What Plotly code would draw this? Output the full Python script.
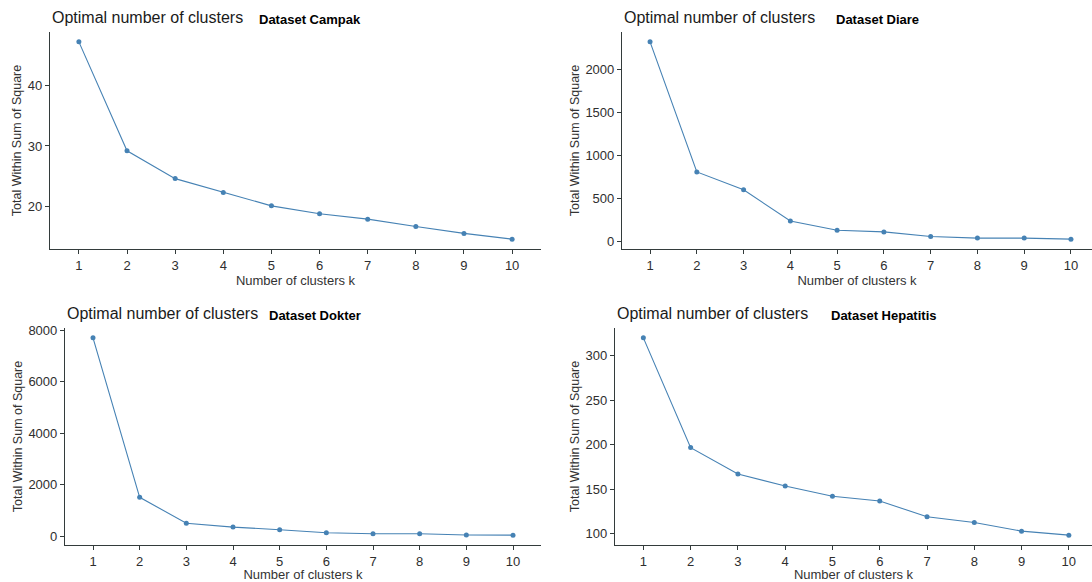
import plotly.graph_objects as go

# ---- data ----
k = [1, 2, 3, 4, 5, 6, 7, 8, 9, 10]
k_labels = ["1", "2", "3", "4", "5", "6", "7", "8", "9", "10"]

campak = [47.2, 29.2, 24.6, 22.3, 20.1, 18.8, 17.9, 16.7, 15.55, 14.6]
diare = [2322, 812, 604, 242, 134, 115, 61, 43, 43, 31]
dokter = [7700, 1516, 510, 360, 257, 141, 103, 103, 51, 48]
hepatitis = [320.1, 196.6, 166.8, 153.4, 141.8, 136.6, 118.7, 112.3, 102.6, 98.1]

campak_ticks = [20, 30, 40]
diare_ticks = [0, 500, 1000, 1500, 2000]
dokter_ticks = [0, 2000, 4000, 6000, 8000]
hepatitis_ticks = [100, 150, 200, 250, 300]

main_title = "Optimal number of clusters"
dataset_names = ["Dataset Campak", "Dataset Diare", "Dataset Dokter", "Dataset Hepatitis"]
x_title = "Number of clusters k"
y_title = "Total Within Sum of Square"

# ---- layout geometry (pixels) ----
W, H = 1092, 582
panels = [
    dict(data=campak, ticks=campak_ticks, x0=50, x1=541, y0=32, y1=249, xr=[0.4, 10.6],
         tx=50, ty=17, dx=257, dy=20),
    dict(data=diare, ticks=diare_ticks, x0=622, x1=1092, y0=32, y1=249, xr=[0.4, 10.45],
         tx=622, ty=17, dx=834, dy=20),
    dict(data=dokter, ticks=dokter_ticks, x0=65, x1=541, y0=328, y1=545, xr=[0.4, 10.6],
         tx=65, ty=313, dx=267, dy=315),
    dict(data=hepatitis, ticks=hepatitis_ticks, x0=615, x1=1092, y0=328, y1=545, xr=[0.4, 10.49],
         tx=615, ty=313, dx=829, dy=315),
]

FONT = "Liberation Sans, Arial, sans-serif"
AXIS_COL = "#333b3b"
LINE_COL = "#4682B4"

fig = go.Figure()
layout = dict(
    width=W, height=H,
    margin=dict(l=0, r=0, t=0, b=0, autoexpand=False),
    paper_bgcolor="white", plot_bgcolor="white",
    showlegend=False,
    font=dict(family=FONT, color="#333333"),
    annotations=[],
)

for i, p in enumerate(panels):
    n = i + 1
    xa = "x" if n == 1 else f"x{n}"
    ya = "y" if n == 1 else f"y{n}"
    fig.add_trace(go.Scatter(
        x=k, y=p["data"], xaxis=xa, yaxis=ya, mode="lines+markers",
        line=dict(color=LINE_COL, width=1.1),
        marker=dict(color=LINE_COL, size=5),
        hoverinfo="x+y",
    ))
    lo, hi = min(p["data"]), max(p["data"])
    pad = 0.05 * (hi - lo)
    axis_common = dict(
        showgrid=False, zeroline=False, showline=True, linecolor=AXIS_COL, linewidth=1.2,
        ticks="outside", ticklen=4, tickwidth=1, tickcolor=AXIS_COL,
        tickfont=dict(family=FONT, size=13, color="#2e2e2e"),
        automargin=False,
    )
    layout["xaxis" if n == 1 else f"xaxis{n}"] = dict(
        axis_common,
        domain=[p["x0"] / W, p["x1"] / W],
        range=p["xr"], tickmode="array", tickvals=k, ticktext=k_labels,
        anchor=ya,
        title=dict(text=x_title, font=dict(family=FONT, size=13, color="#333333"), standoff=3),
    )
    layout["yaxis" if n == 1 else f"yaxis{n}"] = dict(
        axis_common,
        domain=[1 - p["y1"] / H, 1 - p["y0"] / H],
        range=[lo - pad, hi + pad], tickmode="array", tickvals=p["ticks"],
        ticktext=[str(t) for t in p["ticks"]],
        anchor=xa,
        title=dict(text=y_title, font=dict(family=FONT, size=12.5, color="#333333"), standoff=3),
    )
    layout["annotations"].append(dict(
        text=main_title, xref="paper", yref="paper", x=p["tx"] / W, y=1 - p["ty"] / H,
        xanchor="left", yanchor="middle", showarrow=False,
        font=dict(family=FONT, size=16, color="#1a1a1a"),
    ))
    layout["annotations"].append(dict(
        text="<b>" + dataset_names[i] + "</b>", xref="paper", yref="paper",
        x=p["dx"] / W, y=1 - p["dy"] / H,
        xanchor="left", yanchor="middle", showarrow=False,
        font=dict(family=FONT, size=13, color="#000000"),
    ))

fig.update_layout(**layout)
fig.write_html(
    "out.html",
    config={"displayModeBar": False},
    post_script="document.body.style.margin='0px';document.body.style.overflow='hidden';",
)
